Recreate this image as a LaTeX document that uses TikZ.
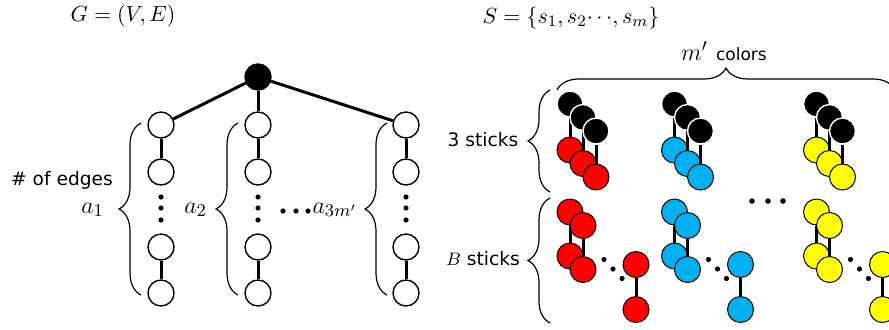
\documentclass[tikz,border=0pt]{standalone}
\usepackage[no-math]{fontspec}
\setmainfont{DejaVu Sans}
\usepackage{tikz}
\usetikzlibrary{decorations.pathreplacing}
\definecolor{cred}{HTML}{FF0000}
\definecolor{cblue}{HTML}{00B0F0}
\definecolor{cyel}{HTML}{FFFF00}
\tikzset{
  vtx/.style={circle,draw,line width=0.7pt,fill=white,minimum size=13pt,inner sep=0pt},
  rootvtx/.style={vtx,fill=black},
  ball/.style={circle,draw,line width=0.5pt,minimum size=13pt,inner sep=0pt},
  blkball/.style={ball,draw=white,fill=black,line width=0.7pt},
  edge/.style={line width=1.5pt},
  brc/.style={decorate,decoration={brace,amplitude=11pt},line width=0.6pt},
  txt/.style={font=\fontsize{9.3}{11}\selectfont},
  mathlbl/.style={font=\fontsize{11}{13}\selectfont},
  biglbl/.style={font=\fontsize{13}{15}\selectfont},
}

\begin{document}
\begin{tikzpicture}[x=0.5pt,y=-0.5pt]
  \useasboundingbox (0,0) rectangle (889,329);
  % the graph G
  \node[mathlbl] (gtitle) at (123,16) {$G=(V,E)$};
  \node[rootvtx] (r) at (258,77) {};
  \foreach \x [count=\i] in {161,258,406} {
    \node[vtx] (c\i-1) at (\x,125) {};
    \node[vtx] (c\i-2) at (\x,172) {};
    \node[vtx] (c\i-4) at (\x,247) {};
    \node[vtx] (c\i-5) at (\x,293) {};
    \draw[edge] (r) -- (c\i-1);
    \draw[edge] (c\i-1) -- (c\i-2);
    \draw[edge] (c\i-4) -- (c\i-5);
    \foreach \y in {197,208,220} \fill (\x,\y) circle (1.3pt);
  }
  \draw[brc] (141,295) -- (141,123);
  \draw[brc] (238,295) -- (238,123);
  \draw[brc] (387,295) -- (387,123);
  \node[txt] (edges) at (62,180) {\# of edges};
  \node[biglbl,anchor=east] (a1) at (111,210) {$a_1$};
  \node[biglbl,anchor=east] (a2) at (214,210) {$a_2$};
  \node[biglbl,anchor=east] (a3) at (364,210) {$a_{3m'}$};
  \foreach \x in {283,296,308} \fill (\x,211) circle (1.3pt);

  % the sticks S
  \node[mathlbl] (stitle) at (571,18) {$S=\{s_1,s_2{\cdots},s_m\}$};
  \node[biglbl] (mcol) at (724,51) {$m'$ {\fontsize{8.5}{10}\selectfont colors}};
  \draw[brc] (557,90) -- (895,90);
  \draw[brc] (550,192) -- (550,90);
  \draw[brc] (550,323) -- (550,198);
  \node[txt] (three) at (483,140) {3 sticks};
  \node[txt] (bst) at (483,259) {$B$ sticks};
  \foreach \c/\bx [count=\g] in {cred/570,cblue/674.5,cyel/816.5} {
    % three sticks with a black end
    \foreach \k in {0,1,2} {
      \node[blkball] (t\g\k) at ({\bx+13*\k},{104+13.5*\k}) {};
      \node[ball,fill=\c] (u\g\k) at ({\bx+13*\k},{150+13.5*\k}) {};
      \draw[edge] (t\g\k) -- (u\g\k);
    }
    % B sticks
    \foreach \k in {0,1} {
      \node[ball,fill=\c] (p\g\k) at ({\bx+13*\k},{212+13.5*\k}) {};
      \node[ball,fill=\c] (q\g\k) at ({\bx+13*\k},{256+13.5*\k}) {};
      \draw[edge] (p\g\k) -- (q\g\k);
    }
    \node[ball,fill=\c] (s\g a) at ({\bx+66},264.5) {};
    \node[ball,fill=\c] (s\g b) at ({\bx+66},309.5) {};
    \draw[edge] (s\g a) -- (s\g b);
    \foreach \d in {0,1,2} \fill ({\bx+34+9*\d},{259.5+9.5*\d}) circle (1.3pt);
  }
  \foreach \x in {752,768,783} \fill (\x,201) circle (1.4pt);
\end{tikzpicture}
\end{document}
